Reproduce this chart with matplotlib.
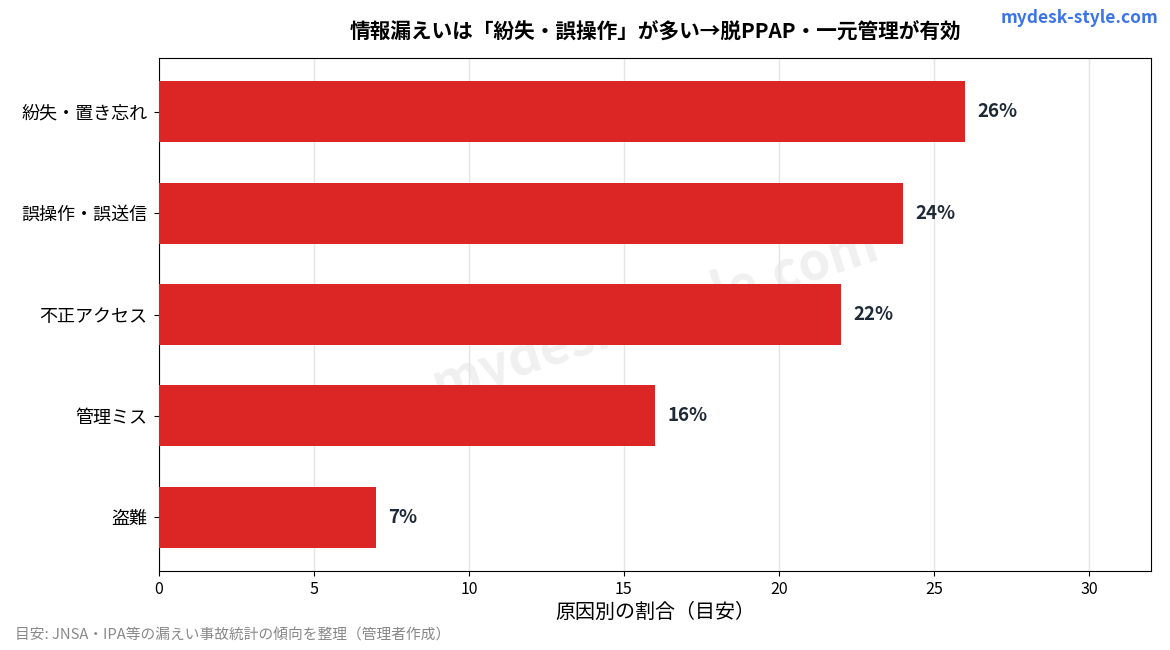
import matplotlib
matplotlib.use("Agg")
import matplotlib.pyplot as plt

plt.rcParams['font.family'] = ['Noto Sans CJK JP', 'DejaVu Sans']

categories = ["紛失・置き忘れ", "誤操作・誤送信", "不正アクセス", "管理ミス", "盗難"]
values = [26, 24, 22, 16, 7]
xticks = [0, 5, 10, 15, 20, 25, 30]

title = "情報漏えいは「紛失・誤操作」が多い→脱PPAP・一元管理が有効"
xlabel = "原因別の割合（目安）"
footnote = "目安: JNSA・IPA等の漏えい事故統計の傾向を整理（管理者作成）"
brand = "mydesk-style.com"

fig = plt.figure(figsize=(11.7, 6.5), dpi=100)
ax = fig.add_axes([159/1170, 1 - 571/650, (1151-159)/1170, (571-58)/650])

ypos = list(range(len(categories)))
bars = ax.barh(ypos, values, height=0.6, color="#DC2626", zorder=3)
ax.invert_yaxis()
ax.set_yticks(ypos)
ax.set_yticklabels(categories, fontsize=13)
ax.tick_params(axis='y', pad=5)
ax.set_xlim(0, 32)
ax.set_xticks(xticks)
ax.tick_params(axis='x', labelsize=11.5)
ax.grid(axis='x', color="#e5e5e5", linewidth=1, zorder=0.5)
ax.set_axisbelow(True)
for b, v in zip(bars, values):
    ax.text(v + 0.4, b.get_y() + b.get_height()/2, f"{v}%", va='center', ha='left',
            fontsize=13.5, fontweight='bold', color="#1f2937", zorder=4)

ax.set_xlabel(xlabel, fontsize=14.4, labelpad=3)
ax.set_title(title, fontsize=14.9, fontweight='bold', pad=14)

# watermark
ax.text(0.5, 0.5, brand, transform=ax.transAxes, fontsize=37, fontweight='bold',
        color="#f0f0f0", rotation=18, ha='center', va='center', zorder=0.2)

fig.text(1158/1170, 1 - 18/650, brand, ha='right', va='center', fontsize=12.5,
         fontweight='bold', color="#3B74E8")
fig.text(15/1170, 1 - 636/650, footnote, ha='left', va='center', fontsize=10.6, color="#888888")

fig.savefig("out.png", dpi=100)
